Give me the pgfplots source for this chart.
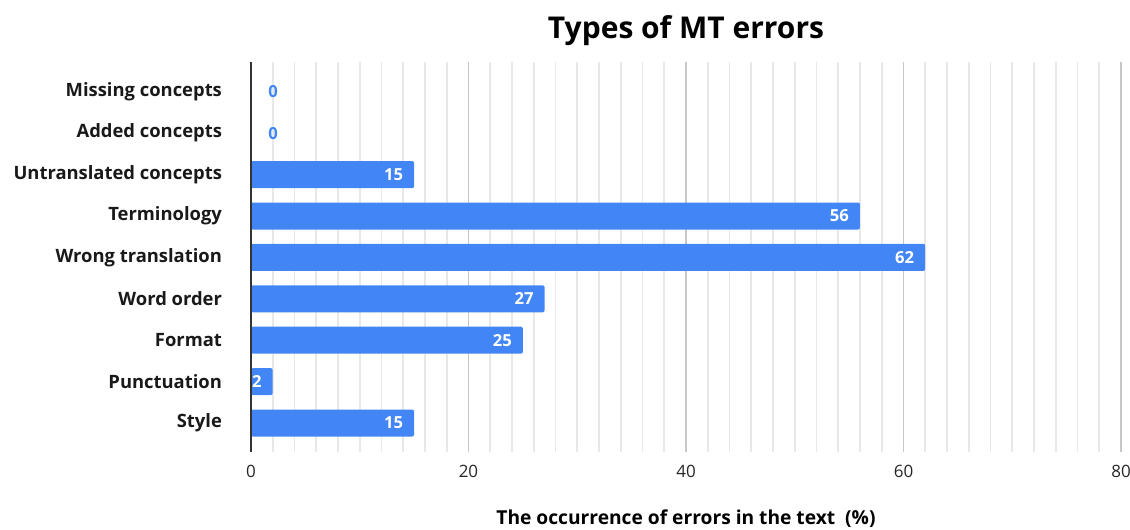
\documentclass[border=0pt]{standalone}
\usepackage{fontspec}
\setmainfont{Open Sans}
\usepackage{pgfplots}
\pgfplotsset{compat=1.18}
\definecolor{gblue}{HTML}{4285F4}
\begin{document}
\begin{tikzpicture}
\path[use as bounding box] (-125.5pt,-39pt) rectangle (439.5pt,226pt);
\begin{axis}[
  at={(0,0)}, anchor=south west,
  scale only axis, width=435pt, height=195pt,
  xmin=0, xmax=80, ymin=-0.7, ymax=8.72,
  xtick={0,20,40,60,80},
  minor x tick num=9,
  ytick={0,...,8},
  yticklabels={Style,Punctuation,Format,Word order,Wrong translation,Terminology,Untranslated concepts,Added concepts,Missing concepts},
  xmajorgrids, xminorgrids,
  major grid style={draw=black!22, line width=0.8pt},
  minor grid style={draw=black!9, line width=0.8pt},
  axis line style={draw=none},
  major tick length=0pt, minor tick length=0pt,
  xticklabel style={font=\fontsize{8.5}{10}\selectfont, text=black!85, yshift=-3pt},
  yticklabel style={font=\fontsize{9.2}{11}\selectfont\bfseries, text=black!90, xshift=-11pt},
  /pgf/number format/assume math mode=true,
  xlabel={The occurrence of errors in the text\ \ (\%)},
  xlabel style={font=\fontsize{9.6}{11}\selectfont\bfseries, yshift=-9.5pt},
  title={Types of MT errors},
  title style={font=\fontsize{15}{17}\selectfont\bfseries, yshift=-1.5pt},
  clip=false,
]
\addplot[xbar, bar width=13.5pt, fill=gblue, draw=none, rounded corners=1pt,
  nodes near coords, point meta=x,
  every node near coord/.append style={anchor=east, text=white, font=\fontsize{8.3}{9}\selectfont\bfseries, xshift=-2pt}]
  coordinates {(15,6) (56,5) (62,4) (27,3) (25,2) (2,1) (15,0)};
\addplot[draw=none, mark=none, nodes near coords, point meta=x,
  every node near coord/.append style={anchor=center, text=gblue, font=\fontsize{8.3}{9}\selectfont\bfseries, xshift=11pt}]
  coordinates {(0,8) (0,7)};
\draw[black!80, line width=0.8pt] (axis cs:0,-0.7) -- (axis cs:0,8.72);
\end{axis}
\end{tikzpicture}
\end{document}
